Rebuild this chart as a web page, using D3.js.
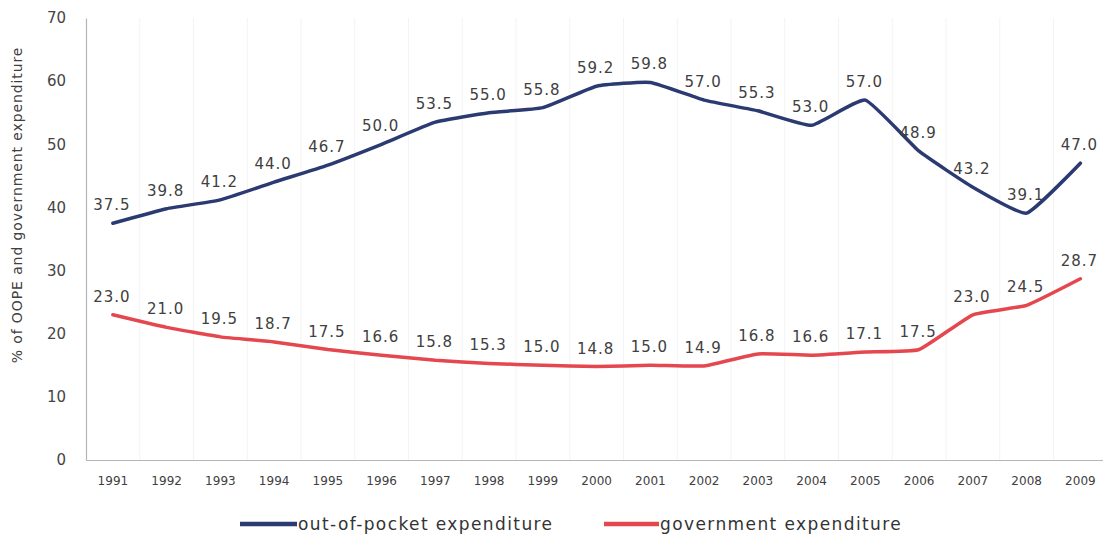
<!DOCTYPE html>
<html>
<head>
<meta charset="utf-8">
<script src="https://cdn.jsdelivr.net/npm/d3@7"></script>
<style>
  html, body { margin: 0; padding: 0; background: #fff; }
  svg { display: block; font-family: "DejaVu Sans", sans-serif; }
</style>
</head>
<body>
<svg id="chart" width="1103" height="540"></svg>
<script>
const years = ["1991","1992","1993","1994","1995","1996","1997","1998","1999","2000","2001","2002","2003","2004","2005","2006","2007","2008","2009"];
const oope = [37.5, 39.8, 41.2, 44.0, 46.7, 50.0, 53.5, 55.0, 55.8, 59.2, 59.8, 57.0, 55.3, 53.0, 57.0, 48.9, 43.2, 39.1, 47.0];
const gov  = [23.0, 21.0, 19.5, 18.7, 17.5, 16.6, 15.8, 15.3, 15.0, 14.8, 15.0, 14.9, 16.8, 16.6, 17.1, 17.5, 23.0, 24.5, 28.7];
const yTicks = [0, 10, 20, 30, 40, 50, 60, 70];
const seriesNames = ["out-of-pocket expenditure", "government expenditure"];
const colors = ["#2b3b72", "#e5474f"];

const svg = d3.select("#chart");
const mLeft = 86, mTop = 18, mBottom = 460;
const step = 53.75;
const x = d3.scaleBand().domain(years).range([mLeft, mLeft + step * years.length]).padding(0);
const y = d3.scaleLinear().domain([0, 70]).range([mBottom, mTop]);

// faint vertical gridlines at category boundaries
svg.append("g").selectAll("line")
  .data(years.slice(1))
  .join("line")
  .attr("x1", d => x(d)).attr("x2", d => x(d))
  .attr("y1", mTop).attr("y2", mBottom)
  .attr("stroke", "#f3f3f3").attr("stroke-width", 1);

// x axis
const xAxis = svg.append("g").attr("transform", `translate(0,${mBottom})`)
  .call(d3.axisBottom(x).tickSize(0).tickPadding(16));
xAxis.select(".domain").attr("stroke", "#b5b5b5").attr("stroke-width", 1.2);
xAxis.selectAll("text").attr("font-family", "DejaVu Sans").attr("font-size", 12).attr("fill", "#404040");

// y axis
const yAxis = svg.append("g").attr("transform", `translate(${mLeft},0)`)
  .call(d3.axisLeft(y).tickValues(yTicks).tickSize(0).tickPadding(20).tickFormat(d3.format("d")));
yAxis.select(".domain").attr("stroke", "#b5b5b5").attr("stroke-width", 1.2);
yAxis.selectAll("text").attr("font-family", "DejaVu Sans").attr("font-size", 15).attr("fill", "#454545");

// y axis title
svg.append("text")
  .attr("transform", `translate(22,${(43 + 367) / 2}) rotate(-90)`)
  .attr("text-anchor", "middle")
  .attr("font-size", 14)
  .attr("letter-spacing", "0.9px")
  .attr("fill", "#404040")
  .text("% of OOPE and government expenditure");

const line = d3.line()
  .x((d, i) => x(years[i]) + x.bandwidth() / 2)
  .y(d => y(d))
  .curve(d3.curveCardinal.tension(0.6));

[oope, gov].forEach((vals, s) => {
  svg.append("path")
    .datum(vals)
    .attr("d", line)
    .attr("fill", "none")
    .attr("stroke", colors[s])
    .attr("stroke-width", 3.5)
    .attr("stroke-linejoin", "round")
    .attr("stroke-linecap", "round");

  svg.append("g").selectAll("text")
    .data(vals)
    .join("text")
    .attr("x", (d, i) => x(years[i]) + x.bandwidth() / 2 - 1)
    .attr("y", d => y(d) - 13)
    .attr("text-anchor", "middle")
    .attr("font-size", 15)
    .attr("letter-spacing", "1px")
    .attr("fill", "#404040")
    .text(d => d.toFixed(1));
});

// legend
const legendItems = [
  { x1: 240, x2: 297, tx: 298 },
  { x1: 604, x2: 659, tx: 660 }
];
const lg = svg.append("g");
legendItems.forEach((it, s) => {
  lg.append("line")
    .attr("x1", it.x1).attr("x2", it.x2)
    .attr("y1", 524).attr("y2", 524)
    .attr("stroke", colors[s]).attr("stroke-width", 4.5);
  lg.append("text")
    .attr("x", it.tx).attr("y", 530)
    .attr("font-size", 17)
    .attr("letter-spacing", "1.4px")
    .attr("fill", "#333")
    .text(seriesNames[s]);
});
</script>
</body>
</html>
